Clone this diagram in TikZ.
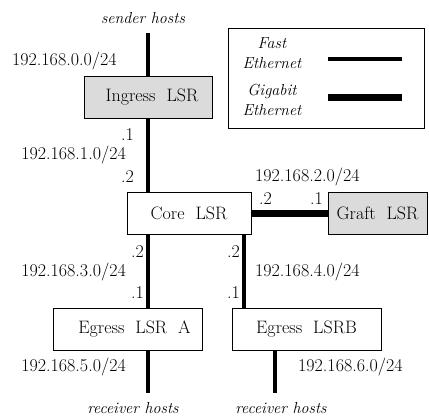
\documentclass[tikz,border=0pt]{standalone}
\begin{document}
\begin{tikzpicture}[x=1pt,y=-1pt,
  every node/.style={font=\fontsize{18}{21}\selectfont, inner sep=0pt},
  router/.style={draw, line width=0.9pt, rectangle, minimum height=42pt},
  grayrouter/.style={router, fill=gray!28},
  fastlink/.style={line width=4pt},
  gigalink/.style={line width=7pt},
  host/.style={font=\fontsize{16}{19}\selectfont\itshape},
  legtext/.style={align=center, font=\fontsize{16}{19.5}\selectfont\itshape}]
\useasboundingbox (0,0) rectangle (429,418);
% routers
\node[grayrouter, minimum width=128pt] (ing) at (148,97) {\hspace*{8pt}Ingress\ \ LSR};
\node[router, minimum width=124pt] (core) at (189,213) {Core\ \ LSR};
\node[grayrouter, minimum width=99pt] (graft) at (377.5,213) {Graft\ \ LSR};
\node[router, minimum width=149pt] (ega) at (127.5,329) {\hspace*{14pt}Egress\ \ LSR\ \ A};
\node[router, minimum width=149pt] (egb) at (306.5,329) {Egress\ \ LSRB};
% free ends
\coordinate (snd) at (148,33);
\coordinate (rcva) at (148,393);
\coordinate (rcvb) at (275,393);
\coordinate (cl) at (148,234);
\coordinate (cr) at (244,234);
% hosts
\node[host] (sh) at (143,18) {sender hosts};
\node[host] (rha) at (133,408) {receiver hosts};
\node[host] (rhb) at (281,408) {receiver hosts};
% links
\draw[fastlink] (snd) -- (snd |- ing.north);
\draw[fastlink] (snd |- ing.south) -- (snd |- core.north);
\draw[fastlink] (cl) -- (cl |- ega.north);
\draw[fastlink] (cr) -- (cr |- egb.north);
\draw[fastlink] (rcva |- ega.south) -- (rcva);
\draw[fastlink] (rcvb |- egb.south) -- (rcvb);
\draw[gigalink] (core.east) -- (core.east -| graft.west);
% subnet labels
\node[anchor=west] (n0) at (12,61) {192.168.0.0/24};
\node[anchor=east] (d11) at (134,135) {.1};
\node[anchor=east] (n1) at (126,155) {192.168.1.0/24};
\node[anchor=east] (d12) at (134,177) {.2};
\node[anchor=west] (n2) at (255,177) {192.168.2.0/24};
\node[anchor=west] (d22) at (259,199) {.2};
\node[anchor=east] (d21) at (323,199) {.1};
\node[anchor=east] (d32) at (144,252) {.2};
\node[anchor=east] (n3) at (126,272) {192.168.3.0/24};
\node[anchor=east] (d31) at (144,293) {.1};
\node[anchor=east] (d42) at (240,252) {.2};
\node[anchor=west] (n4) at (255,272) {192.168.4.0/24};
\node[anchor=east] (d41) at (240,293) {.1};
\node[anchor=east] (n5) at (126,367) {192.168.5.0/24};
\node[anchor=west] (n6) at (298,367) {192.168.6.0/24};
% legend
\node[draw, line width=0.9pt, minimum width=196pt, minimum height=100pt] (leg) at (326,78) {};
\node[legtext] (lf) at (272,53) {Fast\\Ethernet};
\node[legtext] (lg) at (272,100) {Gigabit\\Ethernet};
\coordinate (lfa) at (328,59);
\coordinate (lfb) at (402,59);
\coordinate (lga) at (328,97);
\coordinate (lgb) at (402,97);
\draw[line width=4pt] (lfa) -- (lfb);
\draw[line width=7pt] (lga) -- (lgb);
\end{tikzpicture}
\end{document}
